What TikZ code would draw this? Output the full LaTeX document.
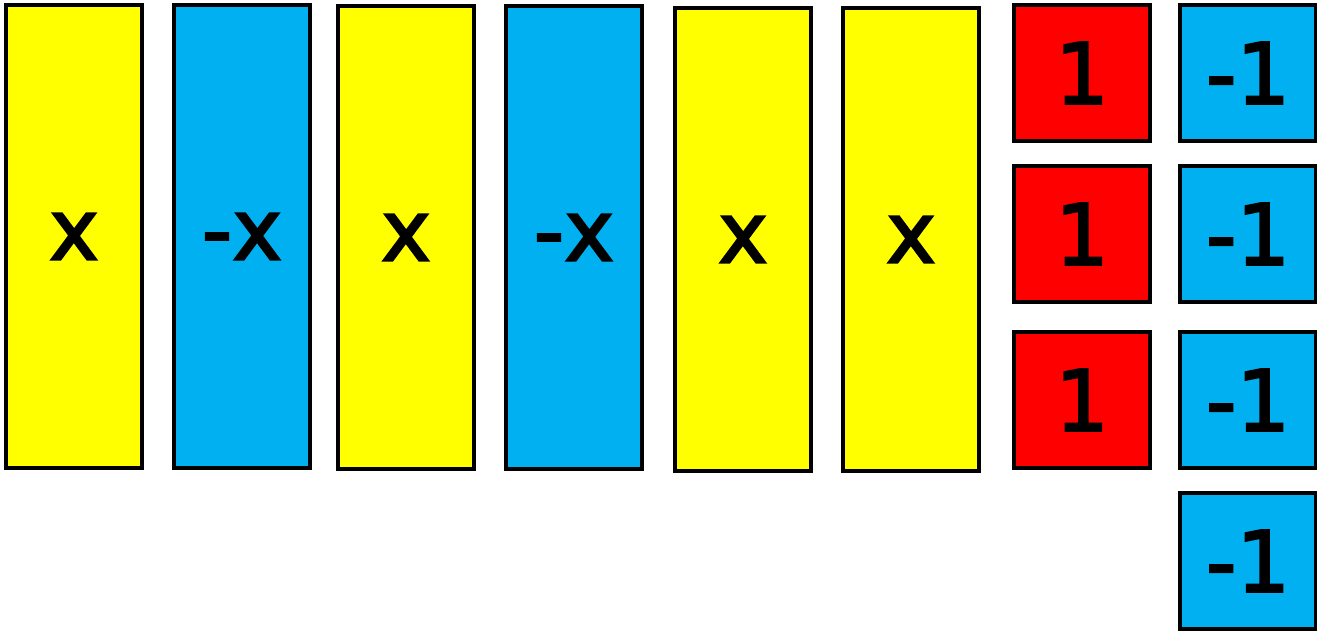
\documentclass[tikz,border=0pt]{standalone}
\usepackage{fontspec}
\newfontfamily\tilefont[FakeBold=2.5]{DejaVu Sans}
\definecolor{tileyellow}{HTML}{FFFF00}
\definecolor{tileblue}{HTML}{00B0F0}
\definecolor{tilered}{HTML}{FF0000}
\tikzset{
  tile/.style={draw=black,line width=1.8pt,inner sep=0pt,font=\tilefont\fontsize{48}{48}\selectfont},
  xtile/.style={tile,fill=tileyellow,minimum width=2.72cm,minimum height=9.26cm},
  negxtile/.style={tile,fill=tileblue,minimum width=2.72cm,minimum height=9.26cm},
  unittile/.style={tile,fill=tilered,minimum width=2.72cm,minimum height=2.72cm},
  negunittile/.style={tile,fill=tileblue,minimum width=2.72cm,minimum height=2.72cm}
}

\begin{document}
\begin{tikzpicture}[x=0.02cm,y=-0.02cm]
  \useasboundingbox (0,0) rectangle (1317,630);
  % x tiles
  \node[xtile] (x1) at (74,236.5) {x};
  \node[negxtile] (nx1) at (242,236.5) {-x};
  \node[xtile] (x2) at (406,237.5) {x};
  \node[negxtile] (nx2) at (574,237.5) {-x};
  \node[xtile] (x3) at (743,239.5) {x};
  \node[xtile] (x4) at (911,239.5) {x};
  % unit tiles
  \foreach \y [count=\i] in {73,234,400}
    \node[unittile] (u\i) at (1082,\y) {1};
  \foreach \y [count=\i] in {73,234,400,561}
    \node[negunittile] (nu\i) at (1248,\y) {-1};
\end{tikzpicture}
\end{document}
